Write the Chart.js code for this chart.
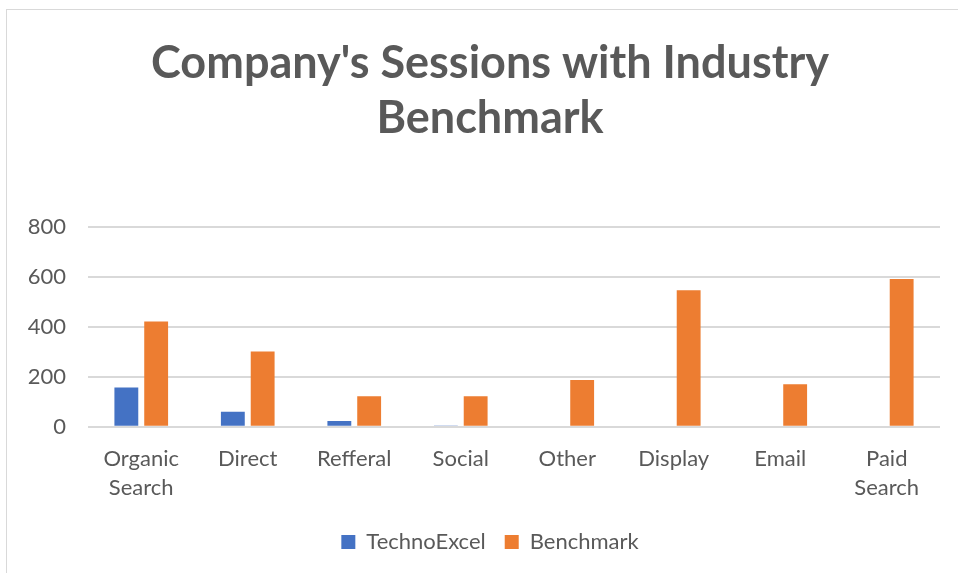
<!DOCTYPE html>
<html>
<head>
<meta charset="utf-8">
<script src="https://cdn.jsdelivr.net/npm/chart.js@4"></script>
<style>
  html, body { margin: 0; padding: 0; background: #fff; }
  #frame { position: absolute; left: 6px; top: 9px; width: 1000px; height: 600px; border: 1px solid #d9d9d9; }
  #wrap { position: absolute; left: 0; top: 0; width: 958px; height: 573px; }
</style>
</head>
<body>
<div id="frame"></div>
<div id="wrap"><canvas id="myChart"></canvas></div>
<script>
var labels = [['Organic', 'Search'], 'Direct', 'Refferal', 'Social', 'Other', 'Display', 'Email', ['Paid', 'Search']];
var technoExcel = [157, 60, 23, 3, 0, 0, 0, 0];
var benchmark = [421, 301, 122, 122, 187, 546, 170, 591];

var ctx = document.getElementById('myChart').getContext('2d');

const data = {
  labels: labels,
  datasets: [
    {
      label: 'TechnoExcel',
      data: technoExcel,
      backgroundColor: '#4472c4',
      categoryPercentage: 0.56,
      barPercentage: 0.8
    },
    {
      label: 'Benchmark',
      data: benchmark,
      backgroundColor: '#ed7d31',
      categoryPercentage: 0.56,
      barPercentage: 0.8
    }
  ]
};

const config = {
  type: 'bar',
  data: data,
  options: {
    responsive: true,
    maintainAspectRatio: false,
    animation: false,
    layout: { padding: { left: 24, right: 2, top: 36, bottom: 10 } },
    scales: {
      x: {
        grid: { display: false },
        border: { display: false },
        ticks: { color: '#595959', font: { family: 'Lato', size: 22, lineHeight: 1.3 }, maxRotation: 0, padding: 10 }
      },
      y: {
        min: 0,
        max: 800,
        afterFit: function (scale) { scale.width = 64; },
        ticks: { stepSize: 200, color: '#595959', font: { family: 'Lato', size: 22 }, padding: 22 },
        grid: { color: '#d9d9d9', lineWidth: 2, drawTicks: false },
        border: { display: false }
      },
      // empty right margin so the title and legend sit where they do in the original
      y2: {
        position: 'right',
        grid: { display: false },
        border: { display: false },
        ticks: { display: false },
        afterFit: function (scale) { scale.width = 16; }
      }
    },
    plugins: {
      legend: {
        position: 'bottom',
        labels: { color: '#595959', font: { family: 'Lato', size: 22 }, boxWidth: 14, boxHeight: 14, padding: 19 }
      },
      title: {
        display: true,
        text: ["Company's Sessions with Industry", 'Benchmark'],
        color: '#595959',
        font: { family: 'Lato', size: 45, weight: 'bold', lineHeight: 1.22 },
        padding: { top: 0, bottom: 81 }
      },
      tooltip: { enabled: false }
    }
  }
};

var myChart = new Chart(ctx, config);
</script>
</body>
</html>
